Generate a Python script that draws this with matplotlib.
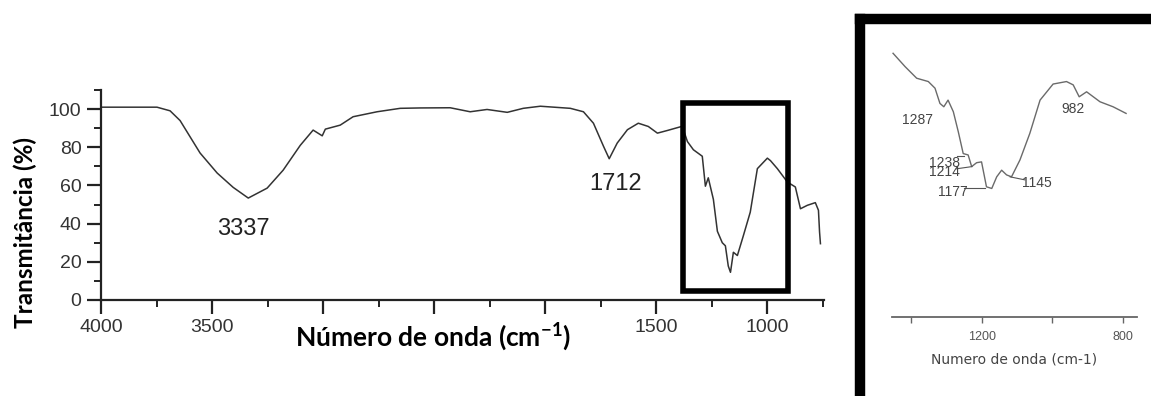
import matplotlib
matplotlib.use("Agg")
import matplotlib.pyplot as plt
from matplotlib.patches import Rectangle
from matplotlib.ticker import MultipleLocator, FixedFormatter, FixedLocator

# espectro FTIR completo (numero de onda, transmitancia %)
onda = [4000, 3748, 3689, 3644, 3554, 3477, 3405, 3337, 3252, 3180, 3103, 3045, 3004, 2990,
        2923, 2865, 2757, 2653, 2563, 2428, 2338, 2262, 2171, 2099, 2022, 1887, 1828, 1783,
        1738, 1712, 1676, 1630, 1581, 1536, 1495, 1450, 1383, 1360, 1333, 1293, 1279, 1266,
        1243, 1225, 1203, 1189, 1176, 1166, 1153, 1135, 1108, 1077, 1045, 1000, 986, 955,
        910, 874, 851, 820, 784, 770, 765, 761]
trans = [101, 101, 99.1, 94, 77, 66.5, 59, 53.4, 58.6, 68, 81, 89, 86, 89.5,
         91.6, 96, 98.6, 100.4, 100.6, 100.7, 98.6, 99.8, 98.3, 100.4, 101.5, 100.4, 98.6, 92.6,
         80.6, 74, 82.2, 89.2, 92.6, 90.9, 87.4, 88.8, 91, 83, 78.7, 75.3, 59.6, 64,
         52.7, 36, 30, 28.4, 17.8, 14.5, 25, 23.3, 33.7, 46, 68.8, 74.3, 73, 68.8,
         61.8, 59.2, 47.8, 49.6, 51, 47, 35.6, 29.5]

# regiao ampliada 1450-790 cm-1
onda_zoom = [1452, 1418, 1385, 1352, 1333, 1319, 1308, 1296, 1281, 1267, 1253, 1239, 1229,
             1215, 1201, 1187, 1172, 1158, 1144, 1130, 1116, 1092, 1064, 1035, 998, 960,
             941, 924, 903, 865, 828, 791]
trans_zoom = [95.2, 90.4, 86.2, 85, 82.6, 77.1, 75.9, 78.3, 74.1, 66.9, 59, 58.5, 54.3,
              55.7, 56, 47, 46.4, 50.6, 53, 51.3, 50.6, 56.7, 66.3, 78.3, 84.1, 85,
              83.8, 79.5, 81.3, 77.7, 75.9, 73.5]

# so estes numeros aparecem no eixo x (o titulo cobre os outros)
xticks = [4000, 3500, 3000, 2500, 2000, 1500, 1000]
xtick_lbl = ["4000", "3500", "", "", "", "1500", "1000"]

picos = ["3337", "1712"]
picos_x = [3360, 1684]
picos_y = [37, 61]

picos_zoom = ["1287", "1238", "1214", "1177", "1145", "982"]
picos_zoom_x = [1384, 1305, 1305, 1282, 1044, 942]
picos_zoom_y = [71, 55.5, 52.3, 45, 48.3, 75]

narrow = ["Liberation Sans Narrow", "Liberation Sans", "DejaVu Sans"]
plt.rcParams["mathtext.fontset"] = "custom"
plt.rcParams["mathtext.rm"] = "Lato:bold"
plt.rcParams["mathtext.bf"] = "Lato:bold"

fig = plt.figure(figsize=(11.51, 3.96), dpi=100)

ax = fig.add_axes([101 / 1151, 96 / 396, 723 / 1151, 210 / 396])
ax.plot(onda, trans, color="#333333", lw=1.1)
ax.set_xlim(4000, 745)
ax.set_ylim(0, 110)
for s in ["top", "right"]:
    ax.spines[s].set_visible(False)
for s in ["left", "bottom"]:
    ax.spines[s].set_linewidth(1.6)
    ax.spines[s].set_color("#222222")
ax.xaxis.set_major_locator(FixedLocator(xticks))
ax.xaxis.set_major_formatter(FixedFormatter(xtick_lbl))
ax.xaxis.set_minor_locator(MultipleLocator(250))
ax.yaxis.set_minor_locator(MultipleLocator(10))
ax.set_yticks([0, 20, 40, 60, 80, 100])
ax.tick_params(which="major", length=10, width=1.6, color="#222222", labelsize=14,
               labelcolor="#333333", pad=4)
ax.tick_params(which="minor", length=5, width=1.4, color="#222222")
for t in ax.get_xticklabels() + ax.get_yticklabels():
    t.set_family(narrow)

for txt, x, y in zip(picos, picos_x, picos_y):
    ax.text(x, y, txt, ha="center", va="center", fontsize=17, color="#222222",
            family=narrow)

ax.add_patch(Rectangle((1378, 4.7), 905 - 1378, 103 - 4.7, fill=False, lw=4,
                       ec="black", zorder=5))

fig.text(433 / 1151, 1 - 337 / 396, "Número de onda (cm$^{-1}$)", ha="center",
         va="center", fontsize=19, fontweight="bold", family="Lato")
fig.text(25 / 1151, 1 - 232 / 396, "Transmitância (%)", ha="center", va="center",
         rotation=90, fontsize=17.5, fontweight="bold", family="Lato")

# quadro com a ampliacao
quadro = fig.add_axes([860 / 1151, -0.05, 0.3, 1 - 19 / 396 + 0.05])
quadro.set_xticks([])
quadro.set_yticks([])
for s in quadro.spines.values():
    s.set_linewidth(7.5)
    s.set_color("black")

ins = fig.add_axes([892 / 1151, 1 - 317 / 396, 245 / 1151, 277 / 396])
ins.patch.set_alpha(0)
ins.plot(onda_zoom, trans_zoom, color="#6a6a6a", lw=1.0)
ins.set_xlim(1455, 760)
ins.set_ylim(0, 100)
for s in ["top", "right", "left"]:
    ins.spines[s].set_visible(False)
ins.spines["bottom"].set_color("#666666")
ins.spines["bottom"].set_linewidth(1.3)
ins.set_yticks([])
ins.xaxis.set_major_locator(MultipleLocator(400))
ins.xaxis.set_minor_locator(MultipleLocator(200))
ins.tick_params(which="both", length=4, width=1, color="#666666", labelsize=9,
                labelcolor="#555555", pad=6)
for t in ins.get_xticklabels():
    t.set_family(narrow)
ins.set_xlabel("Numero de onda (cm-1)", fontsize=10, color="#444444", labelpad=7)

for txt, x, y in zip(picos_zoom, picos_zoom_x, picos_zoom_y):
    ins.text(x, y, txt, ha="center", va="center", fontsize=10, color="#444444",
             family=narrow)
# tracos ligando os rotulos aos picos
ins.plot([1272, 1250], [58.3, 58.3], color="#555555", lw=0.8)
ins.plot([1272, 1228], [53.5, 54.3], color="#555555", lw=0.8)
ins.plot([1250, 1190], [46.5, 46.5], color="#555555", lw=0.8)
ins.plot([1120, 1078], [50.6, 49.5], color="#555555", lw=0.8)

fig.savefig("out.png", dpi=100)
